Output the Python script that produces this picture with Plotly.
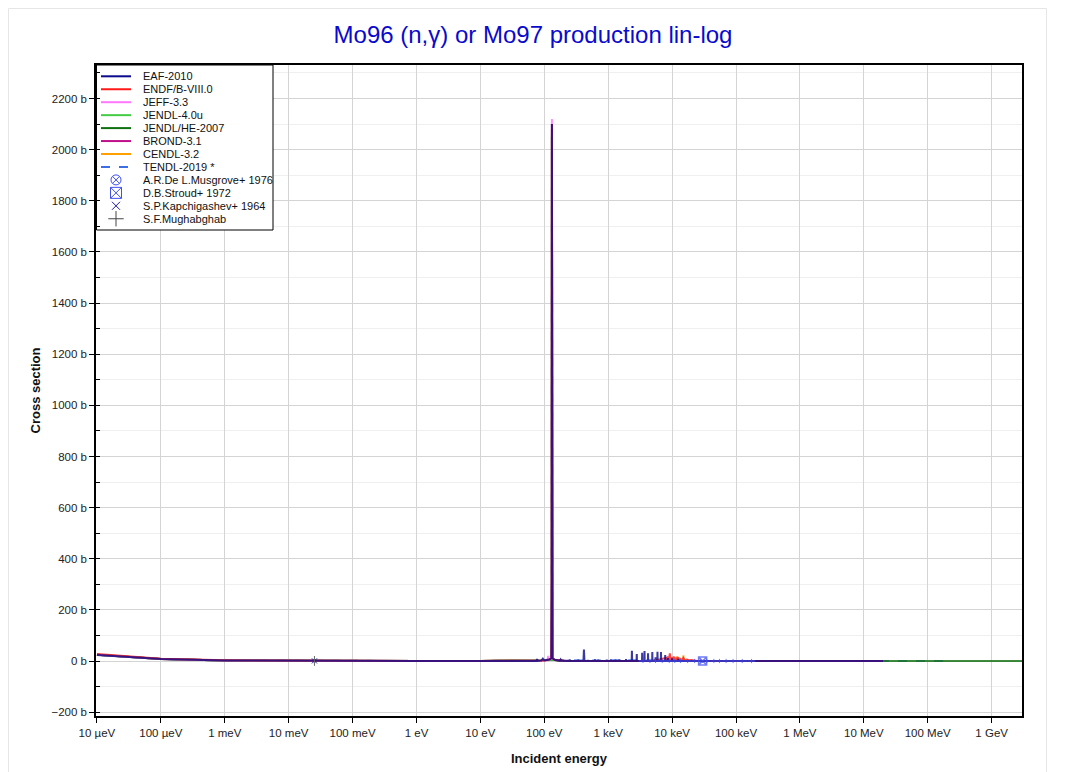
import plotly.graph_objects as go

# ---------------- data ----------------
eaf_energy = [
    1e-5, 1e-4, 1e-3, 1e-2, 0.0253, 0.1, 1, 10, 50,
    75, 77, 79, 90, 95, 100, 110, 120, 129,
    130.8, 131.7, 132.6, 134, 145, 160,
    175, 180, 185, 245, 250, 255, 335, 340, 345,
    410, 417, 425, 475, 480, 485, 615, 620, 625,
    695, 700, 705, 945, 950, 955, 1090, 1100, 1110,
    1290, 1300, 1310, 1490, 1500, 1510, 1890, 1900, 1910,
    2330, 2350, 2370, 2780, 2800, 2820, 3380, 3400, 3420,
    3680, 3700, 3720, 4180, 4200, 4220, 4870, 4900, 4930,
    5460, 5500, 5540, 5860, 5900, 5940, 6660, 6700, 6740,
    7750, 7800, 7850, 8550, 8600, 8650, 9900, 10000, 10100,
    12400, 12500, 12600, 15000, 20000, 1e5, 1e6, 1e7, 2e7]
eaf_xs = [
    24, 7.6, 2.4, 0.76, 0.48, 0.24, 0.076, 0.05, 0.2,
    0.4, 8, 0.5, 1.5, 9, 2, 4, 6, 12,
    300, 2100, 300, 12, 5, 3,
    1, 6, 1, 0.6, 5, 0.6, 0.5, 5, 0.5,
    0.5, 45, 0.5, 0.4, 4, 0.4, 0.4, 6, 0.4,
    0.4, 5, 0.4, 0.3, 6, 0.3, 0.3, 5, 0.3,
    0.3, 5, 0.3, 0.3, 6, 0.3, 0.3, 8, 0.3,
    0.3, 40, 0.3, 0.3, 27, 0.3, 0.3, 32, 0.3,
    0.3, 39, 0.3, 0.3, 30, 0.3, 0.3, 35, 0.3,
    0.3, 15, 0.3, 0.3, 36, 0.3, 0.3, 35, 0.3,
    0.3, 23, 0.3, 0.3, 12, 0.3, 0.3, 10, 0.3,
    0.3, 8, 0.3, 0.2, 0.15, 0.08, 0.04, 0.002, 0.001]

endf_energy = [
    1e-5, 1e-4, 1e-3, 1e-2, 0.0253, 0.1, 1, 10, 50, 100, 120, 129, 130.8, 131.7, 132.6, 134, 145, 200, 1000, 5000,
    8000, 8300, 8600, 8900, 9200, 9500, 9800, 10200, 10600, 11000, 11500, 12000, 12500, 13000, 13600, 14200,
    15000, 16000, 17000, 18500, 20000,
    25000, 1e5, 1e6, 1e7, 2e7]
endf_xs = [
    27, 8.5, 2.7, 0.85, 0.53, 0.27, 0.085, 0.05, 0.2, 2, 6, 12, 300, 2100, 300, 12, 5, 1, 0.4, 0.3,
    12, 2, 18, 3, 30, 4, 14, 2, 18, 3, 10, 2, 15, 2, 8, 2,
    12, 2, 6, 3, 4,
    0.2, 0.08, 0.04, 0.002, 0.001]

jeff_energy = [1e-5, 1e-4, 1e-3, 1e-2, 0.0253, 1, 10, 100, 112, 115, 118, 129, 130.8, 131.7, 132.6, 134, 145,
               200, 1000, 20000, 1e5, 1e6, 1e7, 2e7]
jeff_xs = [25, 7.9, 2.5, 0.8, 0.5, 0.08, 0.05, 2, 3, 20, 3, 12, 310, 2120, 310, 12, 5,
           1, 0.4, 0.15, 0.08, 0.04, 0.002, 0.001]

jendl4_energy = [1e-5, 1e-4, 1e-3, 1e-2, 0.0253, 0.1, 1, 10, 100, 130, 131, 131.7, 132.4, 133.5, 200, 1000,
                 20000, 1e5, 1e6, 1e7, 2e7]
jendl4_xs = [25, 7.9, 2.5, 0.79, 0.5, 0.25, 0.079, 0.05, 2, 5, 300, 2050, 300, 5, 1, 0.4,
             0.15, 0.08, 0.04, 0.002, 0.001]

jendlhe_energy = [1e-5, 1e-4, 1e-3, 1e-2, 0.0253, 0.1, 1, 10, 100, 130, 131, 131.7, 132.4, 133.5, 200, 1000,
                  20000, 1e5, 1e6, 1e7, 2e7, 1e8, 1e9, 3e9]
jendlhe_xs = [25, 7.9, 2.5, 0.79, 0.5, 0.25, 0.079, 0.05, 2, 5, 300, 2050, 300, 5, 1, 0.4,
              0.15, 0.08, 0.04, 0.002, 0.001, 0.0005, 0.0002, 0.0001]

brond_energy = [1e-5, 1e-4, 1e-3, 1e-2, 0.0253, 0.1, 1, 10, 100, 130, 131, 131.7, 132.4, 133.5, 200, 1000,
                20000, 1e5, 1e6, 1e7, 2e7]
brond_xs = [25, 7.9, 2.5, 0.79, 0.5, 0.25, 0.079, 0.05, 2, 5, 300, 2080, 300, 5, 1, 0.4,
            0.15, 0.08, 0.04, 0.002, 0.001]

cendl_energy = [1e-5, 1e-4, 1e-3, 1e-2, 0.0253, 0.1, 1, 10, 100, 130, 131, 131.7, 132.4, 133.5, 200, 1000,
                11800, 12000, 12200, 14800, 15000, 15200, 20000, 1e5, 1e6, 1e7, 2e7]
cendl_xs = [25, 7.9, 2.5, 0.79, 0.5, 0.25, 0.079, 0.05, 2, 5, 300, 2080, 300, 5, 1, 0.4,
            0.3, 18, 0.3, 0.3, 22, 0.3, 0.15, 0.08, 0.04, 0.002, 0.001]

tendl_energy = [1e-5, 1e-4, 1e-3, 1e-2, 0.0253, 0.1, 1, 10, 100, 130, 131, 131.7, 132.4, 133.5, 200, 300, 500,
                800, 1200, 2000, 20000, 1e5, 1e6, 1e7, 2e7, 1e8, 2e8]
tendl_xs = [25, 7.9, 2.5, 0.79, 0.5, 0.25, 0.079, 0.05, 2, 5, 300, 2100, 300, 5, 1, 3, 2,
            3, 2, 3, 0.15, 0.08, 0.04, 0.002, 0.001, 0.0005, 0.0003]

musgrove_energy = [3500, 4500, 5500, 7000, 9000, 11000, 13500, 17500, 22500, 27500,
                   35000, 45000, 55000, 70000, 90000, 125000, 175000]
musgrove_xs = [0.45, 0.40, 0.38, 0.33, 0.30, 0.27, 0.25, 0.22, 0.20, 0.18,
               0.16, 0.14, 0.13, 0.12, 0.11, 0.09, 0.08]
musgrove_dE = [500, 500, 500, 1000, 1000, 1000, 1500, 2500, 2500, 2500,
               5000, 5000, 5000, 10000, 10000, 25000, 25000]

stroud_energy = [30000]
stroud_xs = [0.11]
kapchigashev_energy = [0.0253]
kapchigashev_xs = [0.5]
mughabghab_energy = [0.0253]
mughabghab_xs = [0.5]

tick_vals_x = [1e-5, 1e-4, 1e-3, 1e-2, 1e-1, 1, 10, 100, 1e3, 1e4, 1e5, 1e6, 1e7, 1e8, 1e9]
tick_text_x = ["10 µeV", "100 µeV", "1 meV", "10 meV", "100 meV", "1 eV", "10 eV", "100 eV",
               "1 keV", "10 keV", "100 keV", "1 MeV", "10 MeV", "100 MeV", "1 GeV"]

libraries = [
    ("EAF-2010", eaf_energy, eaf_xs, "#0a0a8c", "solid"),
    ("ENDF/B-VIII.0", endf_energy, endf_xs, "#ff1a1a", "solid"),
    ("JEFF-3.3", jeff_energy, jeff_xs, "#ff77ff", "solid"),
    ("JENDL-4.0u", jendl4_energy, jendl4_xs, "#44cc44", "solid"),
    ("JENDL/HE-2007", jendlhe_energy, jendlhe_xs, "#107010", "solid"),
    ("BROND-3.1", brond_energy, brond_xs, "#c0108c", "solid"),
    ("CENDL-3.2", cendl_energy, cendl_xs, "#ffa000", "solid"),
    ("TENDL-2019 *", tendl_energy, tendl_xs, "#3d6ee6", "dash"),
]
experiments = [
    ("A.R.De L.Musgrove+ 1976", "circle-x-open", "#4050f0", 10),
    ("D.B.Stroud+ 1972", "square-x-open", "#4050f0", 11),
    ("S.P.Kapchigashev+ 1964", "x-thin-open", "#1a1aa0", 8),
    ("S.F.Mughabghab", "cross-thin-open", "#444444", 11),
]

fig = go.Figure()

# curves (reverse order so EAF is on top)
for name, e, s, col, dash in reversed(libraries):
    fig.add_trace(go.Scatter(x=e, y=s, mode="lines", name=name, showlegend=False,
                             line=dict(color=col, width=2, dash=dash), opacity=0.8))

fig.add_trace(go.Scatter(x=musgrove_energy, y=musgrove_xs, mode="markers", showlegend=False,
                         marker=dict(symbol="line-ns-open", size=3, color="#4050f0", line=dict(width=1)),
                         error_x=dict(type="data", array=musgrove_dE, color="#4050f0", width=0, thickness=1.5),
                         opacity=0.75))
fig.add_trace(go.Scatter(x=stroud_energy, y=stroud_xs, mode="markers", showlegend=False,
                         marker=dict(symbol="square-x-open", size=8, color="#4050f0", line=dict(width=1.5)),
                         opacity=0.75))
fig.add_trace(go.Scatter(x=kapchigashev_energy, y=kapchigashev_xs, mode="markers", showlegend=False,
                         marker=dict(symbol="x-thin-open", size=5, color="#1a1aa0", line=dict(width=1))))
fig.add_trace(go.Scatter(x=mughabghab_energy, y=mughabghab_xs, mode="markers", showlegend=False,
                         marker=dict(symbol="line-ns-open", size=7, color="#666666", line=dict(width=1))))

# ---------------- custom legend on an overlay axis (0..1 == plot area) ----------------
L_W, L_H = 926.0, 651.0
def px_x(p):
    return (p - 96) / L_W
def px_y(p):
    return (716 - p) / L_H

box_x0, box_x1 = px_x(96.5), px_x(273)
box_y0, box_y1 = px_y(230), px_y(65)
fig.add_trace(go.Scatter(x=[box_x0, box_x1, box_x1, box_x0, box_x0],
                         y=[box_y0, box_y0, box_y1, box_y1, box_y0],
                         mode="lines", fill="toself", fillcolor="white",
                         line=dict(color="black", width=1), xaxis="x2", yaxis="y2",
                         showlegend=False, hoverinfo="skip"))

row0, row_step = 76.3, 12.95
entries = [n for n, *_ in libraries] + [n for n, *_ in experiments]
annotations = []
for i, (name, e, s, col, dash) in enumerate(libraries):
    yy = px_y(row0 + row_step * i)
    fig.add_trace(go.Scatter(x=[px_x(101), px_x(131)], y=[yy, yy], mode="lines",
                             line=dict(color=col, width=2, dash=dash), xaxis="x2", yaxis="y2",
                             showlegend=False, hoverinfo="skip"))
for j, (name, sym, col, size) in enumerate(experiments):
    yy = px_y(row0 + row_step * (len(libraries) + j))
    fig.add_trace(go.Scatter(x=[px_x(116)], y=[yy], mode="markers",
                             marker=dict(symbol=sym, size=size, color=col, line=dict(width=1, color=col)),
                             xaxis="x2", yaxis="y2", showlegend=False, hoverinfo="skip"))
for i, name in enumerate(entries):
    annotations.append(dict(x=px_x(141), y=px_y(row0 + row_step * i), xref="paper", yref="paper",
                            text=name, showarrow=False, xanchor="left", yanchor="middle",
                            font=dict(family="Liberation Sans, Arial", size=11, color="#111111")))

# page body has an 8px margin: plot area in figure coords is screen coords minus 8
fig.update_layout(
    width=1067, height=772,
    paper_bgcolor="white", plot_bgcolor="white",
    margin=dict(l=88, r=53, t=57, b=64),
    title=dict(text="Mo96 (n,γ) or Mo97 production lin-log", x=525 / 1067, xref="container",
               y=1 - 27 / 772, yref="container", yanchor="middle", xanchor="center",
               font=dict(family="Liberation Sans, Arial", size=24, color="#0a0acc")),
    font=dict(family="Liberation Sans, Arial", size=12, color="#222222"),
    showlegend=False,
    annotations=annotations,
    xaxis=dict(type="log", range=[-5.015, 9.475], tickvals=tick_vals_x, ticktext=tick_text_x,
               showgrid=True, gridcolor="#d4d4d4", gridwidth=1, zeroline=False,
               showline=True, linecolor="black", linewidth=1.5, mirror=True,
               ticks="outside", ticklen=5, tickcolor="black",
               tickfont=dict(size=11.5, color="#222222"),
               title=dict(text="<b>Incident energy</b>", font=dict(size=13, color="#111111"), standoff=16)),
    yaxis=dict(range=[-215, 2331], tickmode="linear", tick0=0, dtick=200, ticksuffix=" b",
               showgrid=True, gridcolor="#d4d4d4", gridwidth=1, zeroline=False,
               showline=True, linecolor="black", linewidth=1.5, mirror=True,
               ticks="outside", ticklen=5, tickcolor="black",
               tickfont=dict(size=11.5, color="#222222"),
               minor=dict(dtick=100, tick0=0, showgrid=True, gridcolor="#efefef",
                          ticks="inside", ticklen=4, tickcolor="black"),
               title=dict(text="<b>Cross section</b>", font=dict(size=13, color="#111111"), standoff=8)),
    xaxis2=dict(overlaying="x", range=[0, 1], visible=False, fixedrange=True),
    yaxis2=dict(overlaying="y", range=[0, 1], visible=False, fixedrange=True),
    shapes=[dict(type="rect", xref="paper", yref="paper",
                 x0=px_x(8.5), x1=px_x(1046.5), y0=px_y(790), y1=px_y(8.5),
                 line=dict(color="#e6e6e6", width=1), fillcolor="rgba(0,0,0,0)", layer="below")],
)

fig.write_html("out.html")
